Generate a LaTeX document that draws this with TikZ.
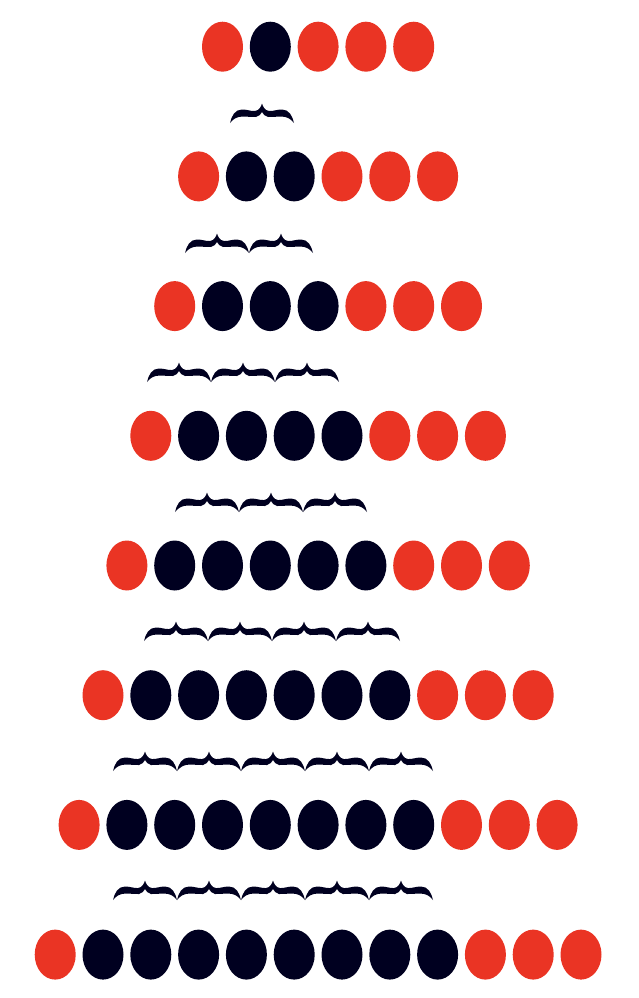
\documentclass[tikz,border=0pt]{standalone}
\usetikzlibrary{shapes.geometric}
\definecolor{ballred}{RGB}{234,52,36}
\definecolor{balldark}{RGB}{0,0,32}
\tikzset{
  ball/.style={ellipse, inner sep=0pt, minimum width=41pt, minimum height=50pt, draw=none},
  redball/.style={ball, fill=ballred},
  darkball/.style={ball, fill=balldark},
  pics/bracket/.style={code={
    \fill[balldark, yscale=-1]
      (0,0) .. controls (1.5,7) and (5,13.5) .. (12,13.5)
      .. controls (18,13.5) and (21,11.5) .. (25,12)
      .. controls (29,12.5) and (31,16) .. (32,19.5)
      .. controls (33,16) and (35,12.5) .. (39,12)
      .. controls (43,11.5) and (46,13.5) .. (52,13.5)
      .. controls (59,13.5) and (62.5,7) .. (64,0)
      .. controls (61,4) and (57,6.5) .. (51,6.5)
      .. controls (45,6.5) and (42,5.5) .. (38,6)
      .. controls (35,6.5) and (33,9) .. (32,11)
      .. controls (31,9) and (29,6.5) .. (26,6)
      .. controls (22,5.5) and (19,6.5) .. (13,6.5)
      .. controls (7,6.5) and (3,4) .. (0,0) -- cycle;
  }}
}
\begin{document}
\begin{tikzpicture}[x=1pt,y=-1pt]
\fill[white] (0,0) rectangle (638,998);
\useasboundingbox (0,0) rectangle (638,998);
% rows of balls
\foreach \k in {0,...,7}{
  \pgfmathsetmacro{\yy}{46.7+129.7*\k}
  \pgfmathsetmacro{\xx}{222.5-23.9*\k}
  \pgfmathtruncatemacro{\nlast}{\k+4}
  \pgfmathtruncatemacro{\dlast}{\k+1}
  \foreach \i in {0,...,\nlast}{
    \pgfmathsetmacro{\cx}{\xx+47.8*\i}
    \ifnum\i=0
      \node[redball] (b\k-\i) at (\cx,\yy) {};
    \else\ifnum\i>\dlast
      \node[redball] (b\k-\i) at (\cx,\yy) {};
    \else
      \node[darkball] (b\k-\i) at (\cx,\yy) {};
    \fi\fi
  }
}
% braces
\foreach \yb/\xs/\cnt [count=\r] in {123/230/1, 253/185/2, 382/147/3, 512/175/3, 641/144/4, 771/113/5, 900/113/5}{
  \foreach \j in {1,...,\cnt}{
    \pgfmathsetmacro{\bx}{\xs+64*(\j-1)}
    \pic (br\r-\j) at (\bx,\yb) {bracket};
  }
}
\end{tikzpicture}
\end{document}
